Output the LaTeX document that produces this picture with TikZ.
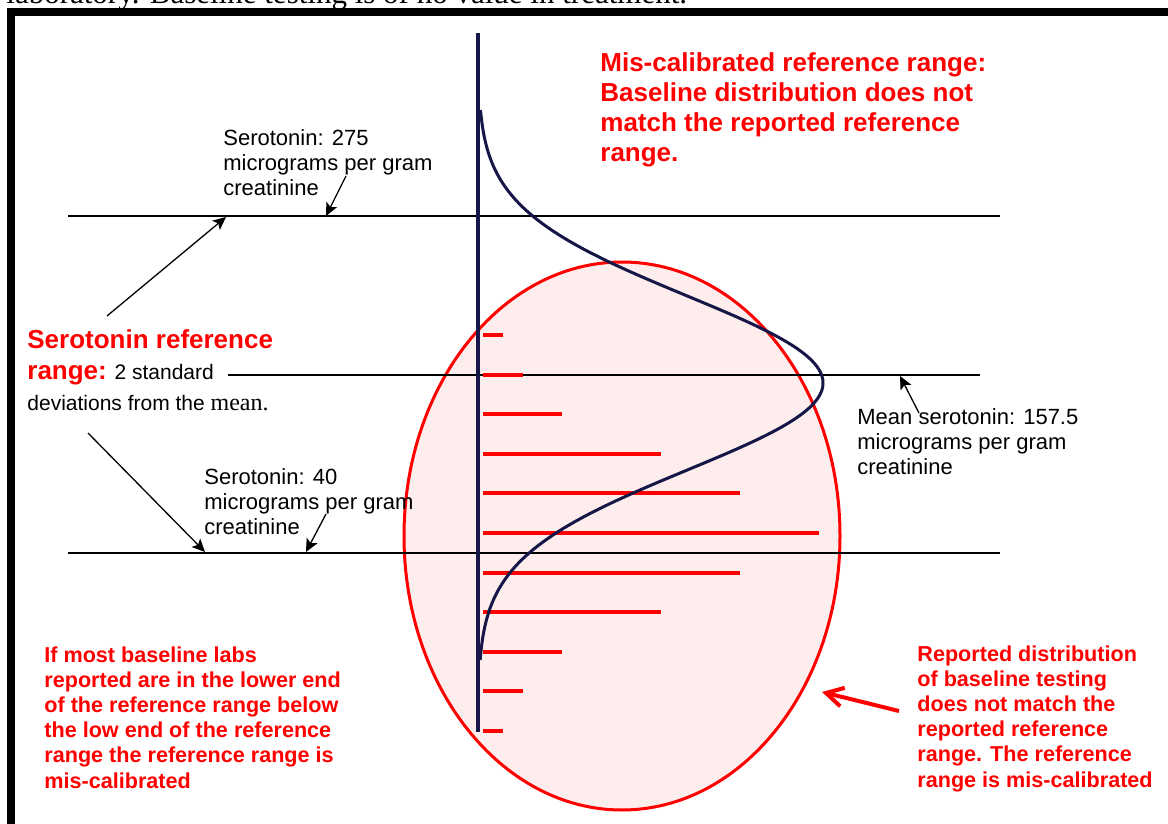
\documentclass[tikz,border=0pt]{standalone}
\usepackage{fontspec}
\setmainfont{Liberation Sans}
\newfontfamily\serifface{Liberation Serif}
\usetikzlibrary{arrows.meta}
\definecolor{navy}{RGB}{22,22,72}
\definecolor{labred}{RGB}{255,0,0}
\definecolor{ovalfill}{RGB}{253,237,237}

\tikzset{
  refline/.style={black, line width=0.65pt},
  pointer/.style={black, line width=0.65pt, -{Stealth[length=6.5pt,width=6pt,inset=1.5pt]}},
  redpointer/.style={labred, line width=2pt, -{Straight Barb[length=8.5pt,width=9.5pt]}},
  bar/.style={labred, line width=2pt},
  blacklabel/.style={anchor=north west, inner sep=0pt, align=left, font=\fontsize{11}{12.5}\selectfont},
  redtitle/.style={anchor=north west, inner sep=0pt, align=left, text=labred, font=\bfseries\fontsize{13}{15}\selectfont},
  rednote/.style={anchor=north west, inner sep=0pt, align=left, text=labred, font=\bfseries\fontsize{10.8}{12.6}\selectfont}
}

\begin{document}
\begin{tikzpicture}[x=0.5pt, y=-0.5pt]
\useasboundingbox (0,0) rectangle (1168,824);
\clip (0,0) rectangle (1168,824);

% Sentence cut off above the frame
\node[anchor=base west, inner sep=0pt, font=\serifface\fontsize{15.5}{18}\selectfont] (caption) at (6,3.5) {laboratory. Baseline testing is of no value in treatment.};

% Frame
\fill (7,8) rectangle (1168,16);
\fill (7,8) rectangle (15,824);

% Reported distribution (oval)
\draw[labred, line width=1.5pt, fill=ovalfill] (622,536) ellipse [x radius=109pt, y radius=137pt];

% Reference range lines
\coordinate (high left) at (68,216);
\coordinate (high right) at (1000,216);
\coordinate (mean left) at (228,375);
\coordinate (mean right) at (980,375);
\coordinate (low left) at (68,553);
\coordinate (low right) at (1000,553);
\draw[refline] (high left) -- (high right);
\draw[refline] (mean left) -- (mean right);
\draw[refline] (low left) -- (low right);

% Reported baseline results
\foreach \y/\len in {335/503,375/523,414/562,454/661,493/740,533/819,573/740,612/661,652/562,691/523,731/503} {
  \draw[bar] (483,\y) -- (\len,\y);
}

% Axis and baseline distribution
\coordinate (axis top) at (478,33);
\coordinate (axis bottom) at (478,732);
\draw[navy, line width=1.6pt] (axis top) -- (axis bottom);
\draw[navy, line width=1.5pt] plot[domain=110:660, samples=160] ({478+345*exp(-0.5*((\x-383)/87)^2)}, \x);

% Labels
\node[redtitle] (title) at (600,52) {Mis-calibrated reference range:\\Baseline distribution does not\\match the reported reference\\range.};
\node[blacklabel] (high label) at (223,129) {Serotonin: 275\\micrograms per gram\\creatinine};
\node[blacklabel] (low label) at (204,468) {Serotonin: 40\\micrograms per gram\\creatinine};
\node[blacklabel] (mean label) at (857,408) {Mean serotonin: 157.5\\micrograms per gram\\creatinine};
\node[anchor=north west, inner sep=0pt, align=left, font=\fontsize{10.5}{15.5}\selectfont] (range label) at (27,329)
  {{\color{labred}\bfseries\fontsize{13}{15.5}\selectfont Serotonin reference}\\
   {\color{labred}\bfseries\fontsize{13}{15.5}\selectfont range:} 2 standard\\
   deviations from the {\serifface\fontsize{12}{15.5}\selectfont mean.}};
\node[rednote] (left note) at (44,646) {If most baseline labs\\reported are in the lower end\\of the reference range below\\the low end of the reference\\range the reference range is\\mis-calibrated};
\node[rednote] (right note) at (917,645) {Reported distribution\\of baseline testing\\does not match the\\reported reference\\range. The reference\\range is mis-calibrated};

% Pointers
\coordinate (range up) at (107,316);
\coordinate (range up tip) at (226,217);
\coordinate (range down) at (88,433);
\coordinate (range down tip) at (205,552);
\coordinate (high from) at (346,176);
\coordinate (high tip) at (326,216);
\coordinate (low from) at (326,514);
\coordinate (low tip) at (306,552);
\coordinate (mean from) at (919,413);
\coordinate (mean tip) at (900,376);
\coordinate (oval from) at (899,711);
\coordinate (oval tip) at (822,692);
\draw[pointer] (range up) -- (range up tip);
\draw[pointer] (range down) -- (range down tip);
\draw[pointer] (high from) -- (high tip);
\draw[pointer] (low from) -- (low tip);
\draw[pointer] (mean from) -- (mean tip);
\draw[redpointer] (oval from) -- (oval tip);

\end{tikzpicture}
\end{document}
